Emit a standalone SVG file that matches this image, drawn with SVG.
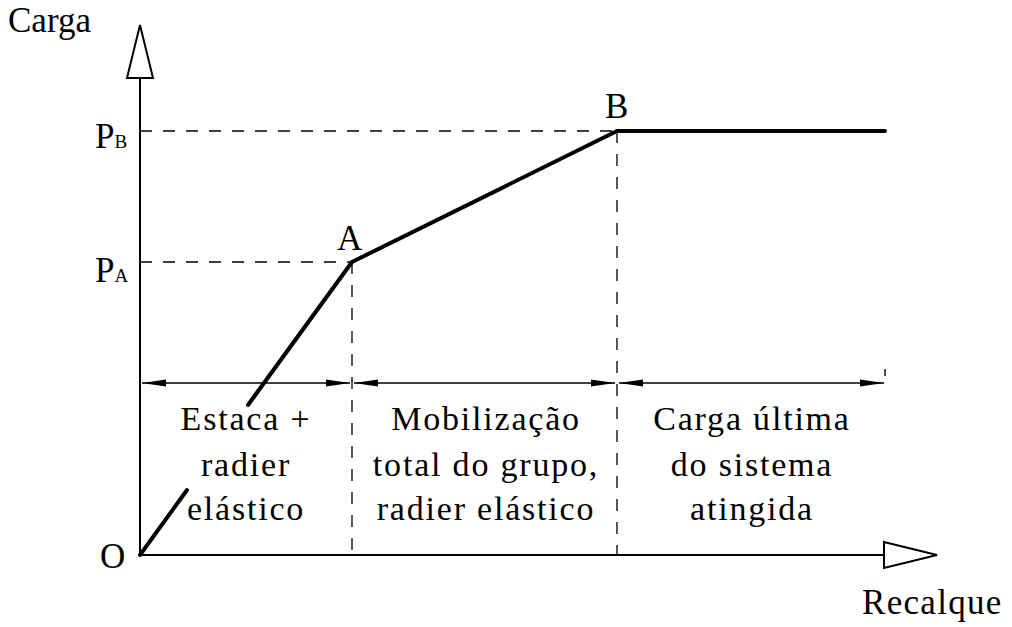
<svg xmlns="http://www.w3.org/2000/svg" width="1012" height="627" viewBox="0 0 1012 627">
<style>
text{font-family:"Liberation Serif","Times New Roman",serif;fill:#000}
.lbl{font-size:35px}
.blk{font-size:34px;letter-spacing:1.8px;text-anchor:middle}
.ax{stroke:#000;stroke-width:2;fill:none}
.dash{stroke:#000;stroke-width:1.3;stroke-dasharray:12 11;fill:none}
.thick{stroke:#000;stroke-width:4;stroke-linecap:round;fill:none}
.dim{stroke:#000;stroke-width:1.4;fill:none}
.head{fill:#fff;stroke:#000;stroke-width:2}
</style>
<defs>
<marker id="ah" markerWidth="26" markerHeight="10" refX="24" refY="5" orient="auto-start-reverse" markerUnits="userSpaceOnUse">
<polygon points="24,5 0,1.5 0,8.5" fill="#000"/>
</marker>
</defs>
<g id="axes">
<line class="ax" x1="140" y1="556" x2="140" y2="25"/>
<polygon class="head" points="140,25 127,78 153,78"/>
<line class="ax" x1="139" y1="555" x2="937" y2="555"/>
<polygon class="head" points="937,555 884,542 884,568"/>
</g>
<g id="connectors">
<line class="dash" x1="140" y1="131" x2="617" y2="131"/>
<line class="dash" x1="140" y1="262" x2="352" y2="262"/>
<line class="dash" x1="352" y1="262" x2="352" y2="555"/>
<line class="dash" x1="617" y1="131" x2="617" y2="555"/>
<line class="thick" x1="140" y1="555" x2="187" y2="490"/>
<line class="thick" x1="248" y1="405" x2="352" y2="262"/>
<line class="thick" x1="352" y1="262" x2="617" y2="131"/>
<line class="thick" x1="617" y1="131" x2="885" y2="131"/>
<line class="dim" x1="142" y1="383" x2="350" y2="383" marker-start="url(#ah)" marker-end="url(#ah)"/>
<line class="dim" x1="354" y1="383" x2="615" y2="383" marker-start="url(#ah)" marker-end="url(#ah)"/>
<line class="dim" x1="619" y1="383" x2="884" y2="383" marker-start="url(#ah)" marker-end="url(#ah)"/>
<line class="dim" x1="885" y1="369" x2="885" y2="376"/>
</g>
<g id="labels">
<text class="lbl" x="8" y="32">Carga</text>
<text class="lbl" x="95" y="148">P<tspan font-size="19">B</tspan></text>
<text class="lbl" x="95" y="282">P<tspan font-size="19">A</tspan></text>
<text class="lbl" x="337" y="250">A</text>
<text class="lbl" x="605" y="118">B</text>
<text class="lbl" x="100" y="568">O</text>
<text class="lbl" x="862" y="614" letter-spacing="1.3">Recalque</text>
</g>
<g id="region1">
<text class="blk" x="246" y="430">Estaca +</text>
<text class="blk" x="246" y="476">radier</text>
<text class="blk" x="246" y="520">elástico</text>
</g>
<g id="region2">
<text class="blk" x="486" y="430">Mobilização</text>
<text class="blk" x="486" y="476">total do grupo,</text>
<text class="blk" x="486" y="520">radier elástico</text>
</g>
<g id="region3">
<text class="blk" x="752" y="430">Carga última</text>
<text class="blk" x="752" y="476">do sistema</text>
<text class="blk" x="752" y="520">atingida</text>
</g>
</svg>
